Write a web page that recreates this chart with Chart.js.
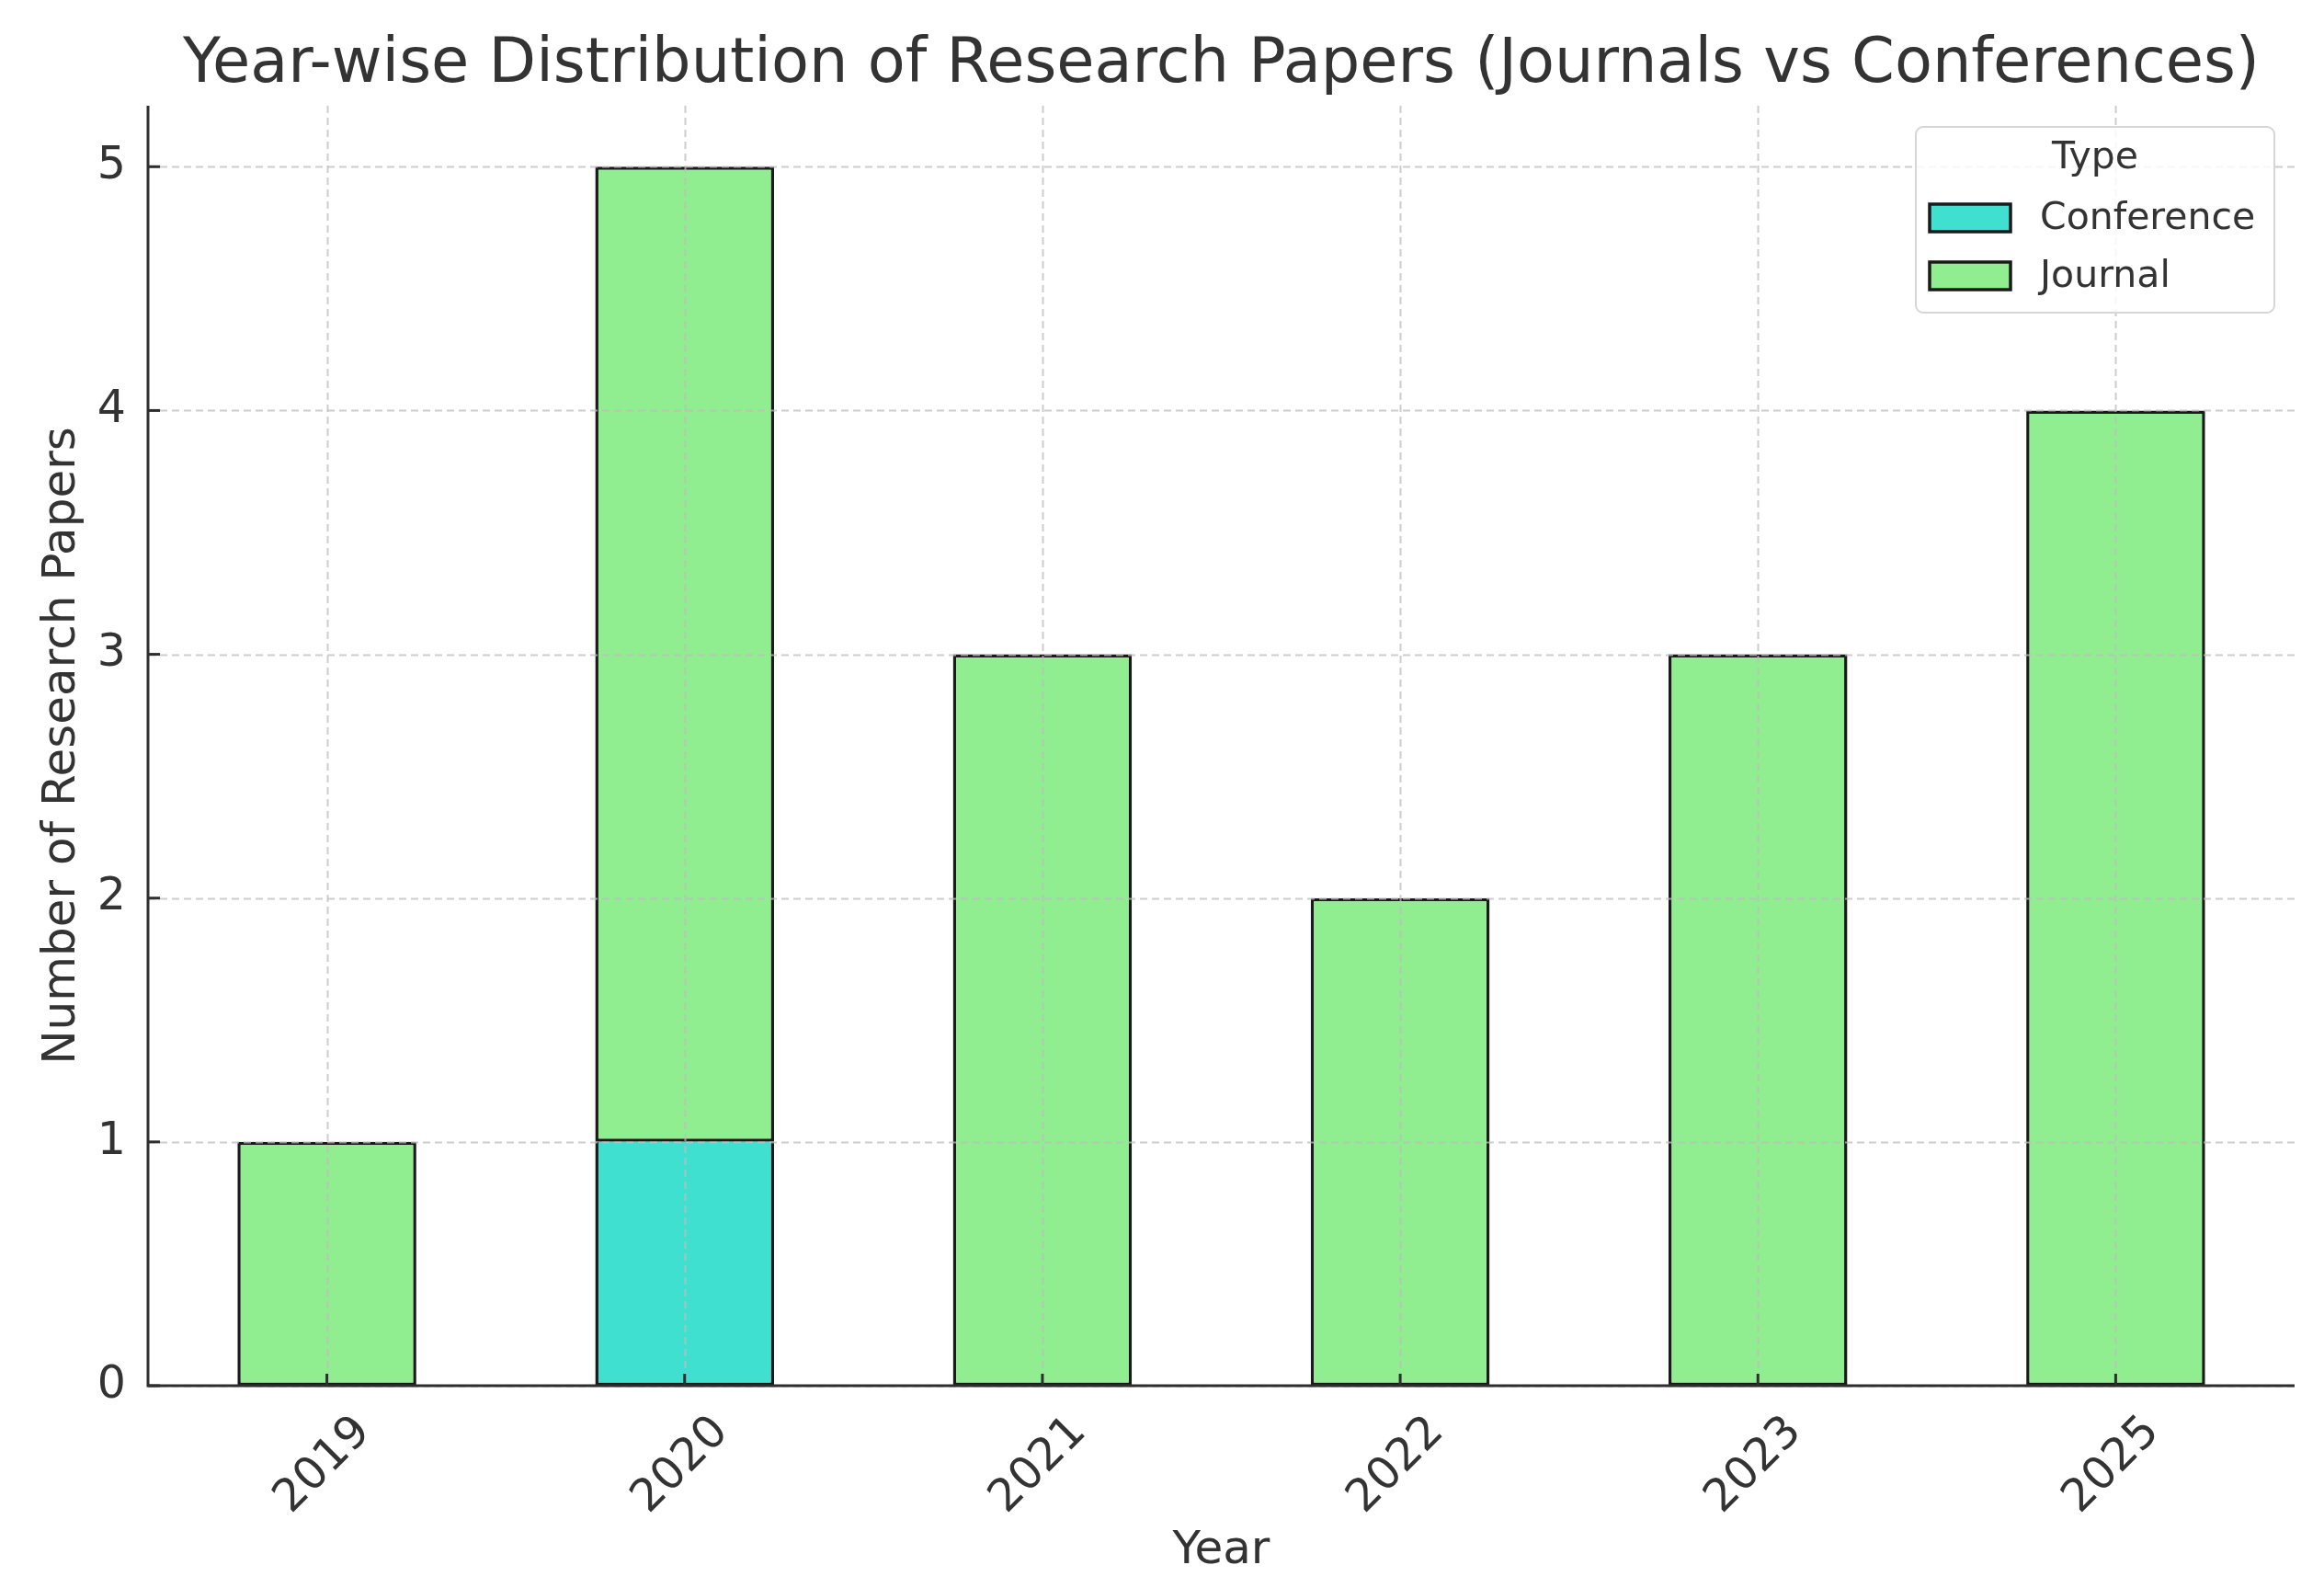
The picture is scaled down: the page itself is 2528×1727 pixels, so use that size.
<!DOCTYPE html>
<html><head><meta charset="utf-8">
<script src="https://cdn.jsdelivr.net/npm/chart.js@4/dist/chart.umd.min.js"></script>
<style>html,body{margin:0;padding:0;background:#fff;} canvas{display:block;}</style>
</head><body>
<canvas id="c" width="2528" height="1727"></canvas>
<script>
// ---- data ----
const categories = ['2019', '2020', '2021', '2022', '2023', '2025'];
const conferenceCounts = [0, 1, 0, 0, 0, 0];
const journalCounts = [1, 4, 3, 2, 3, 4];
const yTickValues = [0, 1, 2, 3, 4, 5];
const seriesNames = ['Conference', 'Journal'];
const seriesColors = ['#40E0D0', '#90EE90'];
const legendTitle = 'Type';
const chartTitle = 'Year-wise Distribution of Research Papers (Journals vs Conferences)';
const xAxisTitle = 'Year';
const yAxisTitle = 'Number of Research Papers';

// ---- styling ----
const FONT = 'DejaVu Sans';
const TEXT = '#333333';
const EDGE = '#1a1a1a';
Chart.defaults.font.family = FONT;
Chart.defaults.color = TEXT;

const overlayPlugin = {
  id: 'overlay',
  afterDatasetsDraw(chart) {
    const ctx = chart.ctx, a = chart.chartArea;
    const xs = chart.scales.x, ys = chart.scales.y;
    ctx.save();
    // dashed grid on top of bars
    ctx.strokeStyle = 'rgba(190,190,190,0.75)';
    ctx.lineWidth = 2;
    ctx.setLineDash([8, 5]);
    yTickValues.forEach(v => {
      const y = Math.round(ys.getPixelForValue(v)) + 0.5;
      ctx.beginPath(); ctx.moveTo(a.left, y); ctx.lineTo(a.right, y); ctx.stroke();
    });
    categories.forEach((c, i) => {
      const x = Math.round(xs.getPixelForValue(i)) + 0.5;
      ctx.beginPath(); ctx.moveTo(x, a.top); ctx.lineTo(x, a.bottom); ctx.stroke();
    });
    ctx.setLineDash([]);
    // spines
    ctx.strokeStyle = '#2e2e2e';
    ctx.lineWidth = 3;
    ctx.beginPath();
    ctx.moveTo(a.left, a.top); ctx.lineTo(a.left, a.bottom); ctx.lineTo(a.right, a.bottom);
    ctx.stroke();
    // inward ticks
    yTickValues.forEach(v => {
      const y = ys.getPixelForValue(v);
      ctx.beginPath(); ctx.moveTo(a.left, y); ctx.lineTo(a.left + 13, y); ctx.stroke();
    });
    categories.forEach((c, i) => {
      const x = xs.getPixelForValue(i);
      ctx.beginPath(); ctx.moveTo(x, a.bottom); ctx.lineTo(x, a.bottom - 13); ctx.stroke();
    });
    ctx.restore();
  },
  afterDraw(chart) {
    const ctx = chart.ctx, a = chart.chartArea;
    ctx.save();
    // title centred over the plot area
    ctx.fillStyle = TEXT;
    ctx.font = '67px "' + FONT + '"';
    ctx.textAlign = 'center';
    ctx.textBaseline = 'middle';
    ctx.fillText(chartTitle, (a.left + a.right) / 2, 72);
    // legend
    const w = 390, h = 202;
    const x0 = a.right - 22 - w, y0 = a.top + 23;
    ctx.beginPath();
    ctx.roundRect(x0, y0, w, h, 8);
    ctx.fillStyle = 'rgba(255,255,255,0.85)';
    ctx.fill();
    ctx.strokeStyle = '#d6d6d6';
    ctx.lineWidth = 2;
    ctx.stroke();
    ctx.fillStyle = TEXT;
    ctx.font = '41px "' + FONT + '"';
    ctx.textBaseline = 'middle';
    ctx.textAlign = 'center';
    ctx.fillText(legendTitle, x0 + w / 2, y0 + 34);
    ctx.textAlign = 'left';
    seriesNames.forEach((name, i) => {
      const cy = y0 + 99 + i * 63;
      ctx.fillStyle = seriesColors[i];
      ctx.fillRect(x0 + 15, cy - 15, 88, 30);
      ctx.strokeStyle = EDGE;
      ctx.lineWidth = 3.5;
      ctx.strokeRect(x0 + 15, cy - 15, 88, 30);
      ctx.fillStyle = TEXT;
      ctx.fillText(name, x0 + 135, cy + 1);
    });
    ctx.restore();
  }
};

const datasets = [
  { label: seriesNames[0], data: conferenceCounts, borderSkipped: 'end' },
  { label: seriesNames[1], data: journalCounts, borderSkipped: false }
].map((d, i) => Object.assign(d, {
  backgroundColor: seriesColors[i],
  borderColor: EDGE,
  borderWidth: 3.5,
  categoryPercentage: 1.0,
  barPercentage: 0.5,
  stack: 's'
}));

new Chart(document.getElementById('c'), {
  type: 'bar',
  data: { labels: categories, datasets },
  plugins: [overlayPlugin],
  options: {
    responsive: false,
    animation: false,
    devicePixelRatio: 1,
    layout: { padding: { left: 0, right: 32, top: 115, bottom: 0 } },
    plugins: {
      legend: { display: false },
      tooltip: { enabled: false },
      title: { display: false }
    },
    scales: {
      x: {
        stacked: true,
        offset: true,
        grid: { display: false },
        border: { display: false },
        ticks: {
          color: TEXT,
          font: { family: FONT, size: 49 },
          minRotation: 45, maxRotation: 45,
          labelOffset: 40,
          padding: 14
        },
        title: {
          display: true, text: xAxisTitle, color: TEXT,
          font: { family: FONT, size: 50, lineHeight: 1.2 },
          padding: { top: 0, bottom: 10 }
        },
        afterFit(s) { s.height = 220; }
      },
      y: {
        stacked: true,
        min: 0, max: 5.25,
        grid: { display: false },
        border: { display: false },
        afterBuildTicks(s) { s.ticks = yTickValues.map(v => ({ value: v })); },
        ticks: {
          color: TEXT,
          font: { family: FONT, size: 49 },
          padding: 16
        },
        title: {
          display: true, text: yAxisTitle, color: TEXT,
          font: { family: FONT, size: 50, lineHeight: 1.2 },
          padding: { top: 38, bottom: 0 }
        },
        afterFit(s) { s.width = 161; }
      }
    }
  }
});
</script>
</body></html>
